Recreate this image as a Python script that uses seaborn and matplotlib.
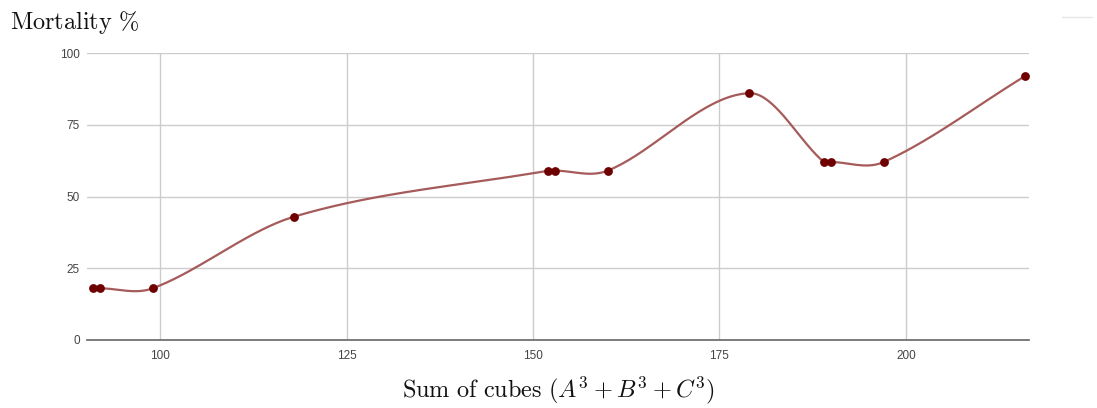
import numpy as np
import pandas as pd
import matplotlib
matplotlib.use("Agg")
import matplotlib.pyplot as plt
import seaborn as sns
from matplotlib.lines import Line2D

sum_of_cubes = [91, 92, 99, 118, 152, 153, 160, 179, 189, 190, 197, 216]
mortality = [18, 18, 18, 43, 59, 59, 59, 86, 62, 62, 62, 92]
x_ticks = [100, 125, 150, 175, 200]
y_ticks = [0, 25, 50, 75, 100]

sns.set_theme(style="white")
plt.rcParams["font.family"] = ["Liberation Sans", "DejaVu Sans"]
plt.rcParams["mathtext.fontset"] = "cm"

df = pd.DataFrame({"x": sum_of_cubes, "y": mortality})


def smooth(xs, ys, n=40):
    xs = np.asarray(xs, float)
    ys = np.asarray(ys, float)
    m = len(xs)
    slopes = np.zeros(m)
    for i in range(m):
        a = max(i - 1, 0)
        b = min(i + 1, m - 1)
        slopes[i] = (ys[b] - ys[a]) / (xs[b] - xs[a])
    outx, outy = [], []
    t = np.linspace(0, 1, n)
    for i in range(m - 1):
        h = xs[i + 1] - xs[i]
        h00 = 2 * t**3 - 3 * t**2 + 1
        h10 = t**3 - 2 * t**2 + t
        h01 = -2 * t**3 + 3 * t**2
        h11 = t**3 - t**2
        yy = h00 * ys[i] + h10 * h * slopes[i] + h01 * ys[i + 1] + h11 * h * slopes[i + 1]
        xx = xs[i] + t * h
        if i > 0:
            xx, yy = xx[1:], yy[1:]
        outx.append(xx)
        outy.append(yy)
    return np.concatenate(outx), np.concatenate(outy)


cx, cy = smooth(df["x"].values, df["y"].values)
cdf = pd.DataFrame({"x": cx, "y": cy})

fig = plt.figure(figsize=(10.97, 4.08), dpi=100)
ax = fig.add_axes([87 / 1097, 68 / 408, (1029 - 87) / 1097, (340 - 53) / 408])

sns.lineplot(data=cdf, x="x", y="y", sort=False, estimator=None, ax=ax,
             color="#a65b5b", linewidth=1.6, zorder=3)
sns.scatterplot(data=df, x="x", y="y", ax=ax, color="#6e0000", s=40,
                edgecolor="#6e0000", linewidth=0, zorder=4, clip_on=False)

ax.set_xlim(90.2, 216.5)
ax.set_ylim(0, 100)
ax.set_xticks(x_ticks)
ax.set_yticks(y_ticks)
ax.grid(True, color="#cccccc", linewidth=1)
ax.set_axisbelow(True)
for s in ["left", "right", "top"]:
    ax.spines[s].set_visible(False)
ax.spines["bottom"].set_color("#666666")
ax.spines["bottom"].set_linewidth(1.2)
ax.tick_params(axis="both", length=0, labelsize=8.5, colors="#444444")
ax.tick_params(axis="y", pad=5)
ax.tick_params(axis="x", pad=7)
ax.set_xlabel(r"$\mathrm{Sum\ of\ cubes}\ (A^3+B^3+C^3)$", fontsize=17.5, color="#111111", labelpad=9)
ax.set_ylabel("")

fig.text(10 / 1097, 1 - 22 / 408, r"$\mathrm{Mortality}\ \%$", fontsize=17.5, color="#111111",
         ha="left", va="center")

fig.add_artist(Line2D([1062 / 1097, 1092 / 1097], [1 - 17 / 408, 1 - 17 / 408],
                      color="#e6e6e6", linewidth=1, transform=fig.transFigure))

fig.savefig("out.png", dpi=100)
